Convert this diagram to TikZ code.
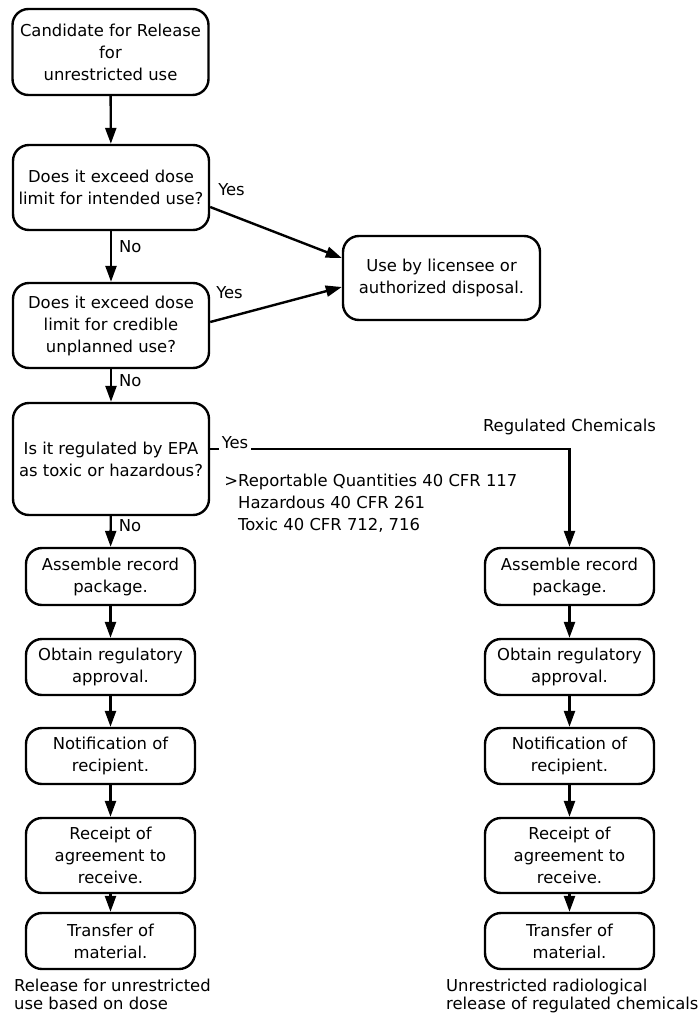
\documentclass[tikz,border=0pt]{standalone}
\usepackage{fontspec}
\setmainfont{DejaVu Sans}
\usetikzlibrary{arrows.meta}

\begin{document}
\begin{tikzpicture}[x=1pt,y=-1pt,->,>={Triangle[length=16pt,width=11pt]},line width=2.4pt,font=\fontsize{16.4}{22}\selectfont]
	\tikzstyle{box}=[draw,rounded corners=16pt,align=center,inner sep=0pt,minimum width=196pt]
	\tikzstyle{stepbox}=[draw,rounded corners=16pt,align=center,inner sep=0pt,minimum width=169pt,minimum height=56pt]
	\tikzstyle{lbl}=[inner sep=2pt]
	\useasboundingbox (0,0) rectangle (697,1014);

	% questions
	\node[box,minimum height=86pt] (cand) at (110.5,52) {Candidate for Release\\for\\unrestricted use};
	\node[box,minimum height=85pt] (dose) at (111,187.5) {Does it exceed dose\\limit for intended use?};
	\node[box,minimum height=85pt] (cred) at (111,325.5) {Does it exceed dose\\limit for credible\\unplanned use?};
	\node[box,minimum height=112pt] (epa) at (111,459) {Is it regulated by EPA\\as toxic or hazardous?};
	\node[box,minimum width=197pt,minimum height=84pt] (lic) at (441.5,278) {Use by licensee or\\authorized disposal.};

	% left column
	\node[stepbox,minimum height=57pt] (asmA) at (110.5,576.5) {Assemble record\\package.};
	\node[stepbox] (aprA) at (110.5,667) {Obtain regulatory\\approval.};
	\node[stepbox] (notA) at (110.5,756) {Notification of\\recipient.};
	\node[stepbox,minimum height=75pt] (rcpA) at (110.5,855.5) {Receipt of\\agreement to\\receive.};
	\node[stepbox] (xfrA) at (110.5,941) {Transfer of\\material.};

	% right column
	\node[stepbox,minimum height=57pt] (asmB) at (569.5,576.5) {Assemble record\\package.};
	\node[stepbox] (aprB) at (569.5,667) {Obtain regulatory\\approval.};
	\node[stepbox] (notB) at (569.5,756) {Notification of\\recipient.};
	\node[stepbox,minimum height=75pt] (rcpB) at (569.5,855.5) {Receipt of\\agreement to\\receive.};
	\node[stepbox] (xfrB) at (569.5,941) {Transfer of\\material.};

	\path (cand) edge (dose);
	\draw (dose) -- node[lbl,pos=0.3,right=5pt] (no1) {No} (cred);
	\draw (cred) -- node[lbl,pos=0.35,right=5pt] (no2) {No} (epa);
	\draw (epa) -- node[lbl,pos=0.3,right=5pt] (no3) {No} (asmA);
	\draw ([yshift=-19.5pt]dose.east) -- ([yshift=20pt]lic.west);
	\draw ([yshift=3.5pt]cred.east) -- ([yshift=-9pt]lic.west);
	\node[lbl] (yes1) at (231.5,190) {Yes};
	\node[lbl] (yes2) at (229.5,293) {Yes};

	\draw ([yshift=10pt]epa.east) -| (asmB.north);
	\node[lbl,inner sep=3pt,fill=white] (yes3) at (235,443) {Yes};
	\node (regchem) at (569.5,427) {Regulated Chemicals};
	\node[anchor=west,align=left,inner sep=0pt] (cfr) at (237,503) {\llap{>}Reportable Quantities 40 CFR 117\\Hazardous 40 CFR 261\\Toxic 40 CFR 712, 716};

	\path (asmA) edge (aprA) (aprA) edge (notA) (notA) edge (rcpA) (rcpA) edge (xfrA);
	\path (asmB) edge (aprB) (aprB) edge (notB) (notB) edge (rcpB) (rcpB) edge (xfrB);

	\node[anchor=north west,align=left,inner sep=0pt,font=\fontsize{16.4}{18}\selectfont] (capA) at (13,978) {Release for unrestricted\\use based on dose};
	\node[anchor=north west,align=left,inner sep=0pt,font=\fontsize{16.4}{18}\selectfont] (capB) at (445,978) {Unrestricted radiological\\release of regulated chemicals};
\end{tikzpicture}
\end{document}
